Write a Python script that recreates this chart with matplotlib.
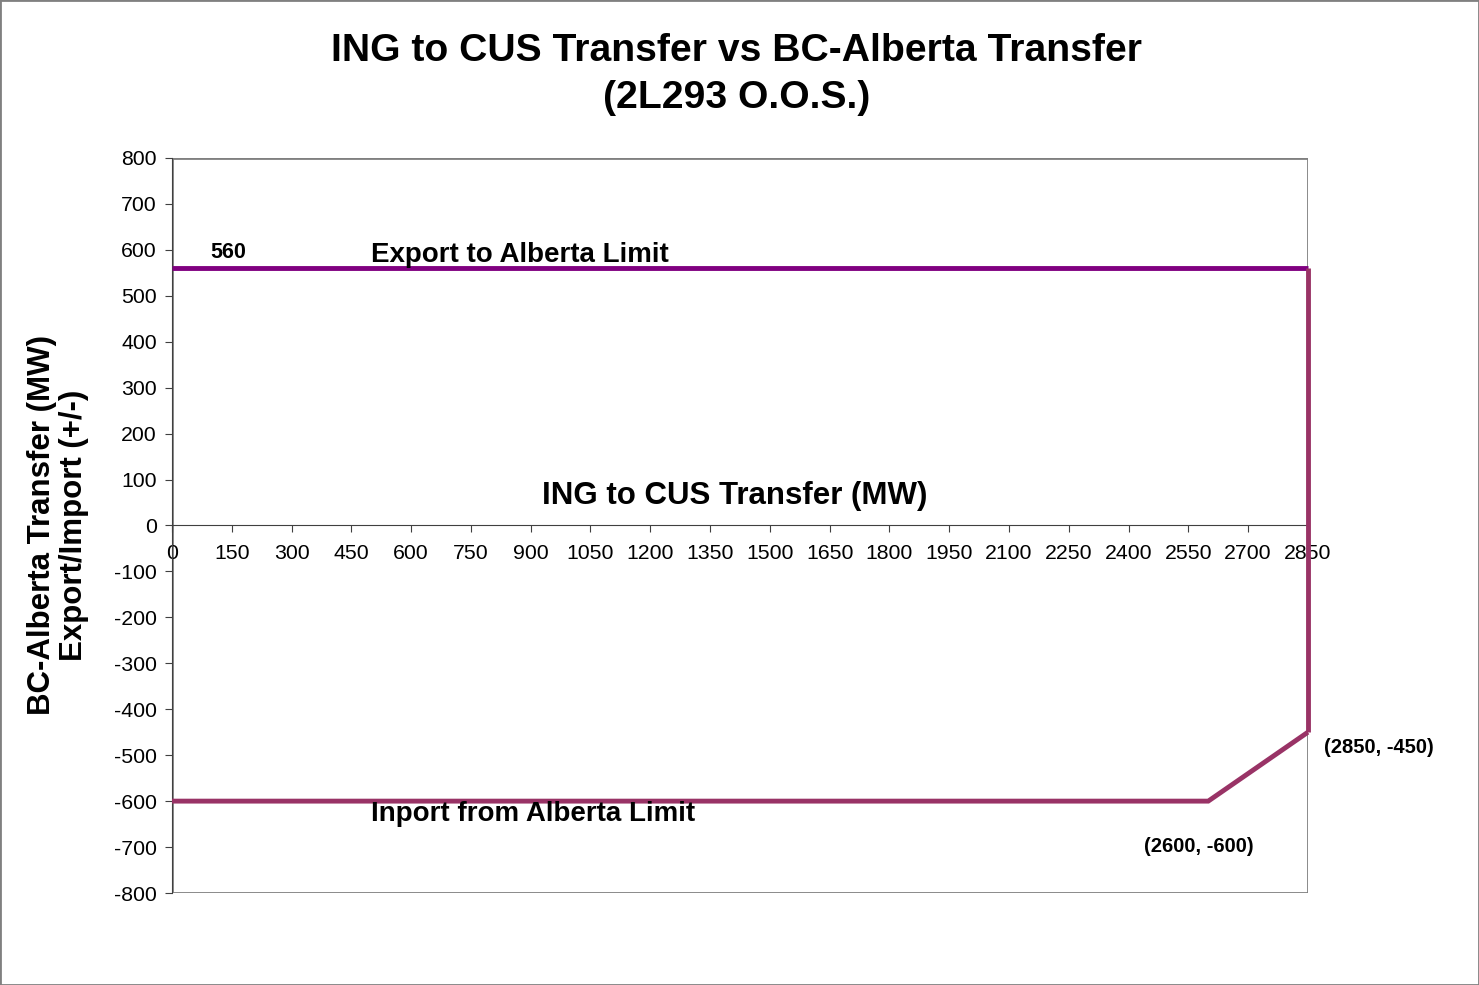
import matplotlib.pyplot as plt
from matplotlib.patches import Rectangle

plt.rcParams['font.family'] = ['Liberation Sans', 'DejaVu Sans']
plt.rcParams['axes.unicode_minus'] = False

# limit curves (ING to CUS transfer MW vs BC-Alberta transfer MW)
export_x = [0, 2850]
export_y = [560, 560]
edge_x = [2850, 2850]
edge_y = [560, -450]
import_x = [0, 2600, 2850]
import_y = [-600, -600, -450]

x_ticks = list(range(0, 2851, 150))
y_ticks = list(range(-800, 801, 100))

fig = plt.figure(figsize=(14.79, 9.85), dpi=100)
ax = fig.add_axes([0.1163, 0.0934, 0.768, 0.7462])

ax.add_patch(Rectangle((0, 0), 1, 1, transform=ax.transAxes, fill=False,
                       edgecolor='#808080', lw=2, zorder=0.5))
ax.plot(export_x, export_y, color='#800080', lw=3.5, solid_capstyle='butt',
        clip_on=False, zorder=3)
ax.plot(edge_x, edge_y, color='#993366', lw=3.5, solid_capstyle='butt',
        clip_on=False, zorder=3)
ax.plot(import_x, import_y, color='#993366', lw=3.5, solid_joinstyle='miter',
        solid_capstyle='butt', clip_on=False, zorder=3)

ax.set_xlim(0, 2850)
ax.set_ylim(-800, 800)
ax.set_xticks(x_ticks)
ax.set_yticks(y_ticks)
ax.tick_params(axis='both', labelsize=15.3, colors='#000000')
ax.tick_params(axis='x', length=5, pad=8, color='#404040')
ax.tick_params(axis='y', length=5, pad=6, color='#404040')

ax.spines['bottom'].set_position(('data', 0))
ax.spines['bottom'].set_color('#404040')
ax.spines['left'].set_color('#404040')
ax.spines['top'].set_visible(False)
ax.spines['right'].set_visible(False)

ax.text(140, 572, '560', fontsize=15.5, fontweight='bold', ha='center', va='bottom')
ax.text(500, 560, 'Export to Alberta Limit', fontsize=20, fontweight='bold',
        ha='left', va='bottom')
ax.text(1412, 65, 'ING to CUS Transfer (MW)', fontsize=22.5, fontweight='bold',
        ha='center', va='center')
ax.text(500, -627, 'Inport from Alberta Limit', fontsize=20, fontweight='bold',
        ha='left', va='center')
ax.text(2577, -699, '(2600, -600)', fontsize=14.5, fontweight='bold',
        ha='center', va='center')
ax.text(2890, -483, '(2850, -450)', fontsize=14.5, fontweight='bold',
        ha='left', va='center', clip_on=False)

fig.text(0.498, 0.948, 'ING to CUS Transfer vs BC-Alberta Transfer', fontsize=28.2,
         fontweight='bold', ha='center', va='center')
fig.text(0.498, 0.901, '(2L293 O.O.S.)', fontsize=28.2,
         fontweight='bold', ha='center', va='center')
fig.text(0.039, 0.467, 'BC-Alberta Transfer (MW)\nExport/Import (+/-)', fontsize=22.5,
         fontweight='bold', ha='center', va='center', rotation=90, linespacing=1.1)

fig.patches.append(Rectangle((0, 0), 1, 1, transform=fig.transFigure, fill=False,
                             edgecolor='#808080', lw=2))

fig.savefig('out.png', dpi=100)
